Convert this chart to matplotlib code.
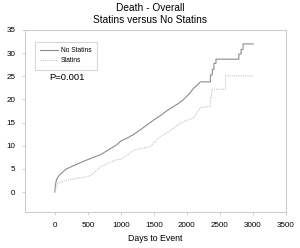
import matplotlib
matplotlib.use('Agg')
import matplotlib.pyplot as plt

plt.rcParams['font.family'] = ['Liberation Sans', 'DejaVu Sans']

# cumulative death (%) vs days
no_statin_days = [0, 10, 25, 50, 100, 177, 300, 481, 600, 684, 800, 937, 1000, 1100, 1190,
                  1300, 1444, 1500, 1600, 1700, 1800, 1900, 1950, 2000, 2052, 2100, 2150,
                  2204, 2356, 2356, 2385, 2385, 2410, 2410, 2440, 2440, 2470, 2470,
                  2786, 2786, 2820, 2820, 2850, 2850, 3004]
no_statin_vals = [0, 1.5, 2.6, 3.3, 4.1, 5.0, 5.8, 6.9, 7.6, 8.0, 9.0, 10.2, 11.0, 11.7, 12.4,
                  13.5, 15.0, 15.6, 16.5, 17.6, 18.5, 19.4, 20.0, 20.7, 21.5, 22.4, 23.0,
                  23.8, 23.8, 25.3, 25.3, 26.5, 26.5, 27.8, 27.8, 28.7, 28.7, 28.7,
                  28.7, 29.8, 29.8, 30.8, 30.8, 32.0, 32.0]

statin_days = [0, 20, 50, 100, 177, 300, 481, 550, 620, 684, 800, 937, 1000, 1100, 1190,
               1300, 1444, 1500, 1600, 1700, 1800, 1900, 2000, 2102, 2204, 2356, 2356,
               2375, 2375, 2584, 2584, 3004]
statin_vals = [0, 1.0, 1.9, 2.2, 2.6, 2.9, 3.3, 3.6, 4.5, 5.4, 6.2, 7.0, 7.1, 8.0, 9.0,
               9.4, 9.8, 10.7, 12.0, 12.8, 13.8, 14.9, 15.5, 16.0, 18.2, 18.5, 20.5,
               20.5, 22.2, 22.2, 25.1, 25.1]

yticks = [0, 5, 10, 15, 20, 25, 30, 35]
xticks = [0, 500, 1000, 1500, 2000, 2500, 3000, 3500]

fig = plt.figure(figsize=(3.0, 2.48), dpi=100)
ax = fig.add_axes([25/300, 1 - 212/248, 261/300, 182/248])

ax.plot(no_statin_days, no_statin_vals, color='#8c8c8c', lw=0.8, label='No Statins')
ax.plot(statin_days, statin_vals, color='#c4c4c4', lw=0.8, ls=(0, (1, 1)),
        label='Statins')

ax.set_xlim(-450, 3500)
ax.set_ylim(-4.3, 35)
ax.set_xticks(xticks)
ax.set_yticks(yticks)
ax.tick_params(labelsize=5.8, length=2, width=0.5, color='#bbbbbb', pad=5)
for s in ax.spines.values():
    s.set_color('#cccccc')
    s.set_linewidth(0.8)

ax.set_xlabel('Days to Event', fontsize=6.3, labelpad=4)
fig.text(0.5, 1 - 8/248, 'Death - Overall', ha='center', va='center', fontsize=7.3)
fig.text(0.5, 1 - 20/248, 'Statins versus No Statins', ha='center', va='center', fontsize=7.3)

leg = ax.legend(loc='upper left', bbox_to_anchor=(10/261, 1 - 12/182), fontsize=4.8,
                frameon=True, fancybox=False, handlelength=2.6, borderpad=0.8,
                labelspacing=0.45, handletextpad=0.5, borderaxespad=0)
leg.get_frame().set_edgecolor('#cccccc')
leg.get_frame().set_linewidth(0.8)

ax.text(42/261, 1 - 48/182, 'P=0.001', transform=ax.transAxes, ha='center',
        va='center', fontsize=6.8)

fig.savefig('out.png', dpi=100)
